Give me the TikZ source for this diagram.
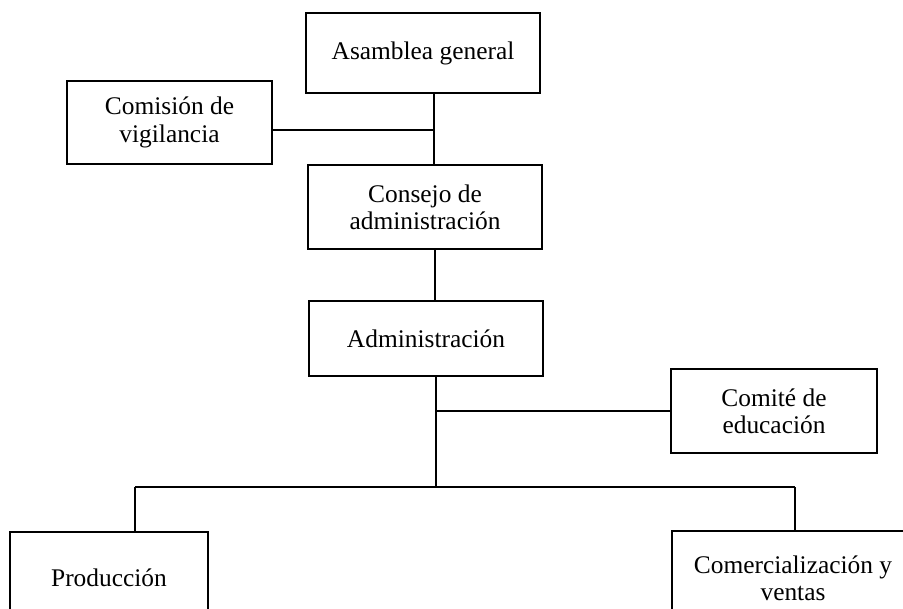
\documentclass[tikz,border=0pt]{standalone}
\usepackage{fontspec}
\setmainfont{Liberation Serif}
\tikzset{box/.style={draw, line width=0.8pt, inner sep=0pt, align=center, font=\fontsize{12.7}{13.6}\selectfont}}
\begin{document}
\begin{tikzpicture}[x=0.5pt, y=-0.5pt]
\useasboundingbox (0,0) rectangle (903,609);
\clip (0,0) rectangle (903,609);
\fill[white] (0,0) rectangle (903,609);

\node[box, minimum width=117pt, minimum height=40pt] (asamblea) at (423,53) {Asamblea general};
\node[box, minimum width=102.5pt, minimum height=41.5pt] (comision) at (169.5,122.5) {Comisión de\\vigilancia};
\node[box, minimum width=117pt, minimum height=42pt] (consejo) at (425,207) {Consejo de\\administración};
\node[box, minimum width=117pt, minimum height=37.5pt] (admin) at (426,338.5) {Administración};
\node[box, minimum width=103pt, minimum height=42pt] (comite) at (774,411) {Comité de\\educación};
\node[box, minimum width=99pt, minimum height=46pt] (produccion) at (109,578) {Producción};
\node[box, minimum width=121pt, minimum height=47pt] (comercial) at (793,578) {Comercialización y\\ventas};

\coordinate (v1) at (434,130);
\coordinate (v2) at (435,300);
\coordinate (v3) at (436,411);
\coordinate (bar) at (436,487);
\coordinate (bl) at (135,487);
\coordinate (br) at (795,487);

\path[draw,line width=0.8pt,-] (asamblea.south -| v1) -- (consejo.north -| v1);
\path[draw,line width=0.8pt,-] (comision.east |- v1) -- (v1);
\path[draw,line width=0.8pt,-] (consejo.south -| v2) -- (admin.north -| v2);
\path[draw,line width=0.8pt,-] (admin.south -| bar) -- (bar);
\path[draw,line width=0.8pt,-] (v3) -- (comite.west);
\path[draw,line width=0.8pt,-] (bl) -- (br);
\path[draw,line width=0.8pt,-] (bl) -- (produccion.north -| bl);
\path[draw,line width=0.8pt,-] (br) -- (comercial.north -| br);
\end{tikzpicture}
\end{document}
